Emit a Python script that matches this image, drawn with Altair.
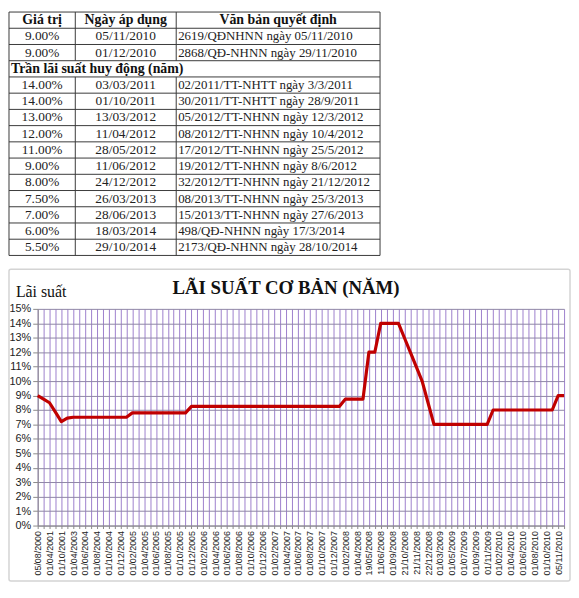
import altair as alt
import pandas as pd

# ---------------- table data ----------------
table_headers = ["Giá trị", "Ngày áp dụng", "Văn bản quyết định"]
section_title = "Trần lãi suất huy động (năm)"
section_after = 2  # data rows before the section heading
rate_values = ["9.00%", "9.00%", "14.00%", "14.00%", "13.00%", "12.00%", "11.00%",
               "9.00%", "8.00%", "7.50%", "7.00%", "6.00%", "5.50%"]
rate_dates = ["05/11/2010", "01/12/2010", "03/03/2011", "01/10/2011", "13/03/2012",
              "11/04/2012", "28/05/2012", "11/06/2012", "24/12/2012", "26/03/2013",
              "28/06/2013", "18/03/2014", "29/10/2014"]
rate_docs = ["2619/QĐNHNN ngày 05/11/2010", "2868/QĐ-NHNN ngày 29/11/2010",
             "02/2011/TT-NHTT ngày 3/3/2011", "30/2011/TT-NHTT ngày 28/9/2011",
             "05/2012/TT-NHNN ngày 12/3/2012", "08/2012/TT-NHNN ngày 10/4/2012",
             "17/2012/TT-NHNN ngày 25/5/2012", "19/2012/TT-NHNN ngày 8/6/2012",
             "32/2012/TT-NHNN ngày 21/12/2012", "08/2013/TT-NHNN ngày 25/3/2013",
             "15/2013/TT-NHNN ngày 27/6/2013", "498/QĐ-NHNN ngày 17/3/2014",
             "2173/QĐ-NHNN ngày 28/10/2014"]

# ---------------- chart data ----------------
chart_title = "LÃI SUẤT CƠ BẢN (NĂM)"
y_title = "Lãi suất"
# labels shown on every second category
shown_labels = ["05/08/2000", "01/04/2001", "01/10/2001", "01/04/2003", "01/06/2004",
                "01/08/2004", "01/10/2004", "01/12/2004", "01/02/2005", "01/04/2005",
                "01/06/2005", "01/08/2005", "01/10/2005", "01/12/2005", "01/02/2006",
                "01/04/2006", "01/06/2006", "01/08/2006", "01/10/2006", "01/12/2006",
                "01/02/2007", "01/04/2007", "01/06/2007", "01/08/2007", "01/10/2007",
                "01/12/2007", "01/02/2008", "01/04/2008", "19/05/2008", "11/06/2008",
                "01/09/2008", "21/10/2008", "21/11/2008", "22/12/2008", "01/03/2009",
                "01/05/2009", "01/07/2009", "01/09/2009", "01/11/2009", "01/02/2010",
                "01/04/2010", "01/06/2010", "01/08/2010", "01/10/2010", "05/11/2010"]
# basic rate (%/year) for every category (90 categories)
rate_series = [9.0, 8.75, 8.5, 7.85, 7.2, 7.44, 7.5, 7.5, 7.5, 7.5,
               7.5, 7.5, 7.5, 7.5, 7.5, 7.5, 7.8, 7.8, 7.8, 7.8,
               7.8, 7.8, 7.8, 7.8, 7.8, 7.8, 8.25, 8.25, 8.25, 8.25,
               8.25, 8.25, 8.25, 8.25, 8.25, 8.25, 8.25, 8.25, 8.25, 8.25,
               8.25, 8.25, 8.25, 8.25, 8.25, 8.25, 8.25, 8.25, 8.25, 8.25,
               8.25, 8.25, 8.75, 8.75, 8.75, 8.75, 12.0, 12.0, 14.0, 14.0,
               14.0, 14.0, 13.0, 12.0, 11.0, 10.0, 8.5, 7.0, 7.0, 7.0,
               7.0, 7.0, 7.0, 7.0, 7.0, 7.0, 7.0, 8.0, 8.0, 8.0,
               8.0, 8.0, 8.0, 8.0, 8.0, 8.0, 8.0, 8.0, 9.0, 9.0]

# ---------------- table layout ----------------
TW, TH = 375, 246
SHIFT = 29  # table starts left of the plot origin
col_edges = [0, 67, 169, TW]
n_rows = 1 + len(rate_values) + 1
section_row = 1 + section_after
centers = [(col_edges[k] + col_edges[k + 1]) / 2 for k in range(3)]
serif = "Liberation Serif"

cells = []
r = 1
for i, (v, d, doc) in enumerate(zip(rate_values, rate_dates, rate_docs)):
    if i == section_after:
        r += 1
    cells.append({"r": r + 0.5, "k": 0, "t": v, "x": centers[0]})
    cells.append({"r": r + 0.5, "k": 1, "t": d, "x": centers[1]})
    cells.append({"r": r + 0.5, "k": 2, "t": doc, "x": col_edges[2] + 2})
    r += 1
cells = pd.DataFrame(cells)
head = pd.DataFrame({"x": centers, "r": [0.5] * 3, "t": table_headers})
sect = pd.DataFrame({"x": [2], "r": [section_row + 0.5], "t": [section_title]})

hlines = pd.DataFrame({"x": [0] * (n_rows + 1), "x2": [TW] * (n_rows + 1), "y": list(range(n_rows + 1))})
vl = []
for xe in [0, TW]:
    vl.append({"x": xe, "y": 0, "y2": n_rows})
for xe in col_edges[1:3]:
    vl.append({"x": xe, "y": 0, "y2": section_row})
    vl.append({"x": xe, "y": section_row + 1, "y2": n_rows})
vlines = pd.DataFrame(vl)

tx = alt.Scale(domain=[0, TW], range=[-SHIFT, TW - SHIFT], nice=False, zero=False)
ty = alt.Scale(domain=[0, n_rows], nice=False, zero=False, reverse=True)
X = lambda f: alt.X(f, scale=tx, axis=None)
Y = lambda f: alt.Y(f, scale=ty, axis=None)

t_h = alt.Chart(hlines).mark_rule(color="#3a3a3a", strokeWidth=1).encode(
    x=X("x:Q"), x2="x2", y=Y("y:Q"))
t_v = alt.Chart(vlines).mark_rule(color="#3a3a3a", strokeWidth=1).encode(
    x=X("x:Q"), y=Y("y:Q"), y2="y2")
t_head = alt.Chart(head).mark_text(font=serif, fontSize=14, fontWeight="bold",
                                   color="#111", baseline="middle").encode(
    x=X("x:Q"), y=Y("r:Q"), text="t:N")
t_center = alt.Chart(cells).transform_filter("datum.k < 2").mark_text(
    font=serif, fontSize=13.5, color="#222", baseline="middle").encode(
    x=X("x:Q"), y=Y("r:Q"), text="t:N")
t_left = alt.Chart(cells).transform_filter("datum.k == 2").mark_text(
    font=serif, fontSize=13, color="#222", baseline="middle", align="left").encode(
    x=X("x:Q"), y=Y("r:Q"), text="t:N")
t_sect = alt.Chart(sect).mark_text(font=serif, fontSize=14, fontWeight="bold",
                                   color="#111", baseline="middle", align="left").encode(
    x=X("x:Q"), y=Y("r:Q"), text="t:N")
table = alt.layer(t_h, t_v, t_head, t_center, t_left, t_sect).properties(width=TW - SHIFT, height=TH)

# ---------------- line chart ----------------
W, H = 532, 219
n = len(rate_series)
df = pd.DataFrame({"i": list(range(n)), "rate": rate_series})
label_js = "[" + ",".join("'" + s + "'" for s in shown_labels) + "]"

x_axis = alt.Axis(values=list(range(n)), title=None,
                  labelExpr="datum.value % 2 == 0 ? " + label_js + "[datum.value / 2] : ''",
                  labelAngle=270, labelOverlap=False, labelFlush=False, labelBound=False,
                  labelFont="Liberation Sans", labelFontSize=9, labelColor="#222",
                  labelPadding=2, tickSize=3, tickColor="#8a8a8a",
                  grid=True, gridColor="#9d7fcc", gridWidth=1,
                  domainColor="#8a8a8a")
y_axis = alt.Axis(values=list(range(16)), title=None, labelExpr="datum.value + '%'",
                  labelFont="Liberation Sans", labelFontSize=11, labelColor="#222",
                  labelPadding=2, tickSize=5, tickColor="#8a8a8a",
                  grid=True, gridColor="#8f86a6", gridWidth=1, domainColor="#8a8a8a")

line = alt.Chart(df).mark_line(color="#C00000", strokeWidth=3.2, strokeJoin="round").encode(
    x=alt.X("i:Q", scale=alt.Scale(domain=[0, n - 1], nice=False, zero=False), axis=x_axis),
    y=alt.Y("rate:Q", scale=alt.Scale(domain=[0, 15], nice=False, zero=False), axis=y_axis),
)
one = pd.DataFrame({"t": [chart_title], "u": [y_title]})
frame = alt.Chart(one).mark_rect(fill=None, stroke="#d4d4d4", strokeWidth=1.5, cornerRadius=2).encode(
    x=alt.value(-29), x2=alt.value(538), y=alt.value(-40), y2=alt.value(275))
title_t = alt.Chart(one).mark_text(font=serif, fontSize=19, fontWeight="bold", color="#111",
                                   align="center", baseline="alphabetic").encode(
    x=alt.value(251), y=alt.value(-15), text="t:N")
ytitle_t = alt.Chart(one).mark_text(font=serif, fontSize=16, color="#111",
                                    align="left", baseline="alphabetic").encode(
    x=alt.value(-22), y=alt.value(-12), text="u:N")
plot = alt.layer(frame, line, title_t, ytitle_t).properties(width=W, height=H)

chart = alt.vconcat(table, plot, spacing=12).properties(
    padding=0, background="white").configure_view(stroke=None)

chart.save("out.html", embed_options={"renderer": "svg", "actions": False})
